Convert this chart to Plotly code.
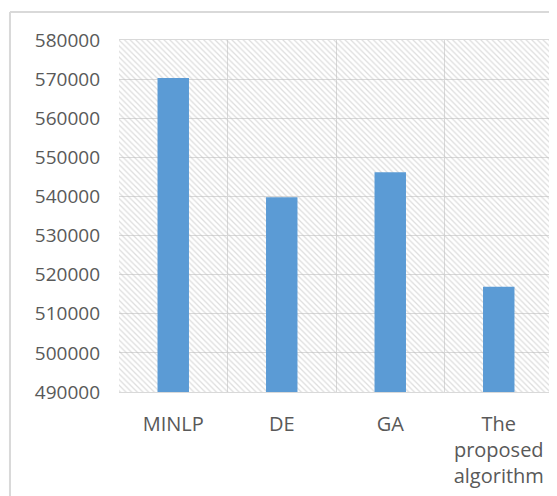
import plotly.graph_objects as go

categories = ["MINLP", "DE", "GA", "The<br>proposed<br>algorithm"]
values = [570300, 539800, 546200, 516900]
y_min, y_max = 490000, 580000
tick_vals = list(range(490000, 580001, 10000))

fig = go.Figure()

# hatched plot-area background
fig.add_trace(go.Bar(
    x=categories, y=[y_max - y_min] * len(categories), base=[y_min] * len(categories),
    width=1.0, marker=dict(color="rgba(0,0,0,0)", line=dict(width=0),
                           pattern=dict(shape="\\", size=4, solidity=0.32,
                                        fgcolor="#bcbcbc", fillmode="overlay")),
    hoverinfo="skip", showlegend=False))

fig.add_trace(go.Bar(
    x=categories, y=[v - y_min for v in values], base=[y_min] * len(values),
    width=0.29, marker=dict(color="#5b9bd5", line=dict(width=0)), showlegend=False))

font = dict(family="Open Sans", size=19, color="#595959")
xfont = dict(family="Open Sans", size=20, color="#595959")
fig.update_layout(
    width=557, height=496, barmode="overlay",
    margin=dict(l=111, r=12, t=32, b=112, autoexpand=False),
    paper_bgcolor="white", plot_bgcolor="white",
    font=font,
    xaxis=dict(type="category", tickson="boundaries", showgrid=True, gridcolor="#d9d9d9",
               gridwidth=1, ticks="", showline=True, linecolor="#d9d9d9", linewidth=1,
               mirror=True, tickfont=xfont, ticklabelstandoff=14, automargin=False),
    yaxis=dict(range=[y_min, y_max], tickvals=tick_vals, showgrid=True, gridcolor="#d9d9d9",
               gridwidth=1, zeroline=False, showline=False, tickfont=font,
               ticklabelstandoff=18, tickformat="d", automargin=False),
    shapes=[dict(type="path", xref="paper", yref="paper",
                 path="M -0.2512,1.0795 L 1.2,1.0795 M -0.2512,1.0795 L -0.2512,-0.4",
                 line=dict(color="#d9d9d9", width=2))],
)

fig.write_html("out.html")
